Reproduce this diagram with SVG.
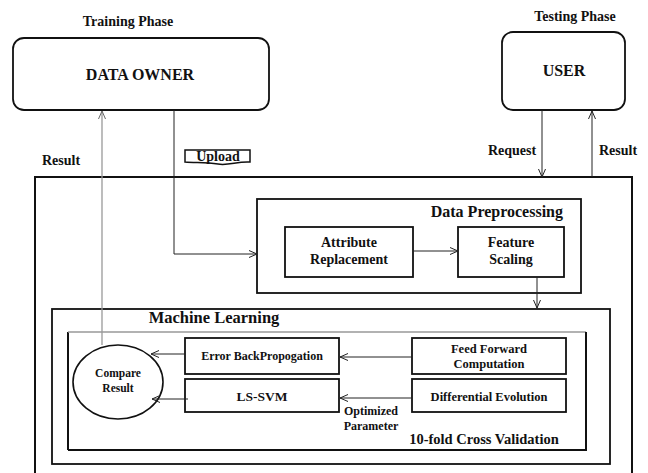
<svg xmlns="http://www.w3.org/2000/svg" width="648" height="473" viewBox="0 0 648 473">
<style>
text{font-family:'Liberation Serif',serif;font-weight:700;fill:#111;text-anchor:middle}
.box{fill:none;stroke:#111;stroke-width:1.8}
.thick{fill:none;stroke:#111;stroke-width:2}
.con{fill:none;stroke:#222;stroke-width:1}
.gray{fill:none;stroke:#999;stroke-width:1.3}
</style>
<defs>
<marker id="a" viewBox="0 0 8 8" refX="8" refY="4" markerWidth="8" markerHeight="8" markerUnits="userSpaceOnUse" orient="auto">
<path d="M0,0.5 L8,4 L0,7.5" fill="none" stroke="#222" stroke-width="1"/>
</marker>
<marker id="ag" viewBox="0 0 8 8" refX="8" refY="4" markerWidth="8" markerHeight="8" markerUnits="userSpaceOnUse" orient="auto">
<path d="M0,0.5 L8,4 L0,7.5" fill="none" stroke="#666" stroke-width="1"/>
</marker>
</defs>
<g font-family="Liberation Serif, serif" font-weight="bold">
<g id="outer">
<path class="thick" d="M35,473 V177 H632 V473"/>
</g>

<g id="data-owner">
<text x="128" y="26" font-size="14">Training Phase</text>
<rect class="box" x="13" y="38" width="256" height="72" rx="11"/>
<text x="140" y="80" font-size="16">DATA OWNER</text>
</g>

<g id="user">
<text x="575" y="21" font-size="14">Testing Phase</text>
<rect class="box" x="502" y="32" width="123" height="78" rx="11"/>
<text x="564" y="76" font-size="16">USER</text>
</g>

<g id="labels">
<text x="61" y="165" font-size="14">Result</text>
<path d="M185,150 H250 V162 C238,161 228,166 218,164 C205,162 195,163 185,162 Z" fill="none" stroke="#111" stroke-width="1.5"/>
<text x="218" y="161" font-size="14">Upload</text>
<text x="512" y="155" font-size="14">Request</text>
<text x="618" y="155" font-size="14">Result</text>
<text x="371" y="415" font-size="12">Optimized</text>
<text x="371" y="430" font-size="12">Parameter</text>
</g>

<g id="data-preprocessing">
<rect class="box" x="257" y="199" width="324" height="94"/>
<text x="563" y="217" font-size="16" style="text-anchor:end">Data Preprocessing</text>
</g>

<g id="attribute-replacement">
<rect class="box" x="285" y="227" width="128" height="50"/>
<text x="349" y="247" font-size="14">Attribute</text>
<text x="349" y="264" font-size="14">Replacement</text>
</g>

<g id="feature-scaling">
<rect class="box" x="458" y="227" width="106" height="50"/>
<text x="511" y="247" font-size="14">Feature</text>
<text x="511" y="264" font-size="14">Scaling</text>
</g>

<g id="machine-learning">
<rect class="box" x="52" y="309" width="558" height="155"/>
<text x="214" y="323" font-size="16.5">Machine Learning</text>
</g>

<g id="cross-validation">
<path class="thick" d="M68,450 V332"/>
<path class="gray" d="M68,332 H586"/>
<path class="thick" d="M586,332 V450 H68"/>
<text x="484" y="444" font-size="14.5">10-fold Cross Validation</text>
</g>

<g id="compare-result">
<ellipse cx="118" cy="382" rx="45" ry="37" fill="none" stroke="#111" stroke-width="1.6"/>
<text x="118" y="377" font-size="11.5">Compare</text>
<text x="118" y="392" font-size="11.5">Result</text>
</g>

<g id="error-backpropogation">
<rect class="box" x="185" y="338" width="154" height="36"/>
<text x="262" y="360" font-size="12">Error BackPropogation</text>
</g>

<g id="ls-svm">
<rect class="box" x="185" y="379" width="154" height="33"/>
<text x="262" y="401" font-size="13.5">LS-SVM</text>
</g>

<g id="feed-forward">
<rect class="box" x="412" y="338" width="154" height="36"/>
<text x="489" y="353" font-size="12.5">Feed Forward</text>
<text x="489" y="368" font-size="12.5">Computation</text>
</g>

<g id="differential-evolution">
<rect class="box" x="412" y="379" width="154" height="33"/>
<text x="489" y="401" font-size="12.5">Differential Evolution</text>
</g>

<g id="connectors">
<path class="gray" d="M102,345 V111" marker-end="url(#ag)"/>
<path class="con" d="M174,110 V254 H257" marker-end="url(#a)"/>
<path class="con" d="M542,110 V177" marker-end="url(#a)"/>
<path class="con" d="M592,177 V111" marker-end="url(#a)"/>
<path class="con" d="M413,251 H458" marker-end="url(#a)"/>
<path class="con" d="M537,277 V308" marker-end="url(#a)"/>
<path class="con" d="M412,357 H340" marker-end="url(#a)"/>
<path class="con" d="M412,398 H340" marker-end="url(#a)"/>
<path class="con" d="M185,354 H151" marker-end="url(#a)"/>
<path class="con" d="M188,399 H152" marker-end="url(#a)"/>
</g>
</g>
</svg>
